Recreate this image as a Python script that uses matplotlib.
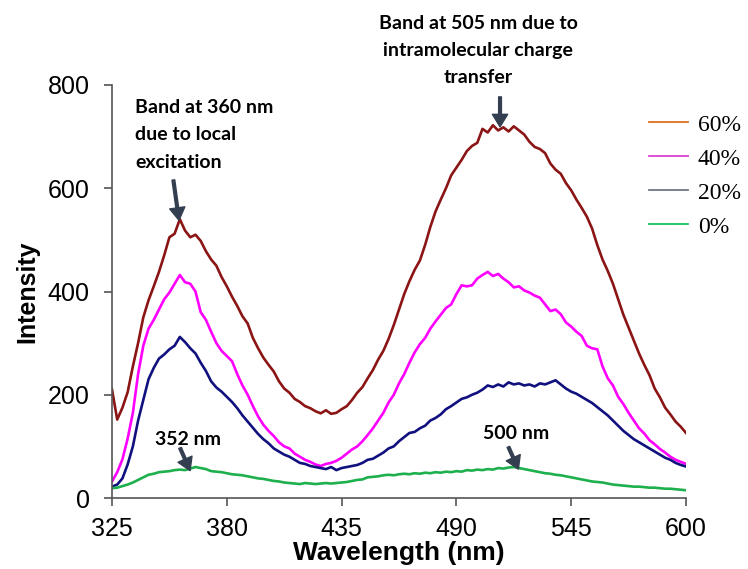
import numpy as np
import matplotlib
matplotlib.use("Agg")
import matplotlib.pyplot as plt
from matplotlib.lines import Line2D

# Emission wavelengths (nm), 2.5 nm step
wavelength = np.arange(325, 600.1, 2.5)

# Fluorescence intensity for each water fraction
int_60 = [
    210, 152, 175, 205, 255, 300, 350, 383, 410, 438,
    470, 505, 512, 540, 518, 505, 510, 498, 478, 462,
    450, 428, 410, 390, 372, 352, 338, 310, 290, 272,
    258, 245, 226, 212, 204, 192, 186, 178, 174, 168,
    164, 170, 163, 165, 172, 178, 190, 204, 215, 232,
    248, 268, 285, 308, 335, 365, 395, 420, 442, 460,
    490, 525, 555, 578, 600, 625, 640, 655, 672, 682,
    688, 715, 708, 722, 712, 718, 710, 720, 712, 704,
    690, 680, 676, 668, 648, 636, 628, 610, 596, 578,
    562, 545, 522, 490, 462, 440, 415, 385, 355, 330,
    305, 280, 258, 238, 212, 195, 175, 162, 148, 138,
    126,
]
int_40 = [
    32, 50, 75, 115, 165, 240, 295, 328, 345, 365,
    385, 398, 415, 432, 418, 415, 400, 360, 345, 322,
    300, 285, 275, 265, 240, 218, 200, 178, 158, 142,
    130, 120, 108, 100, 96, 86, 80, 74, 70, 65,
    62, 66, 68, 72, 78, 86, 94, 100, 110, 122,
    135, 150, 165, 185, 200, 222, 240, 262, 282, 298,
    310, 328, 342, 355, 368, 375, 395, 412, 410, 412,
    425, 432, 438, 430, 434, 425, 418, 408, 410, 402,
    398, 392, 388, 375, 362, 365, 356, 340, 332, 322,
    314, 295, 290, 288, 255, 232, 218, 196, 182, 165,
    150, 135, 125, 112, 104, 95, 88, 80, 74, 70,
    66,
]
int_20 = [
    22, 26, 38, 65, 100, 150, 190, 230, 252, 270,
    278, 288, 295, 312, 302, 290, 280, 262, 246, 226,
    214, 206, 196, 186, 174, 160, 148, 136, 124, 114,
    106, 96, 90, 84, 80, 74, 68, 66, 62, 60,
    58, 56, 60, 54, 58, 60, 62, 64, 68, 74,
    76, 82, 88, 96, 100, 110, 118, 126, 128, 135,
    140, 150, 155, 162, 172, 178, 185, 192, 195, 200,
    204, 210, 218, 215, 220, 216, 224, 220, 222, 218,
    220, 216, 222, 220, 224, 228, 220, 212, 206, 202,
    196, 190, 184, 176, 168, 160, 150, 140, 130, 122,
    114, 108, 102, 96, 90, 84, 78, 74, 68, 64,
    61,
]
int_0 = [
    19, 20, 23, 26, 30, 35, 40, 45, 47, 50,
    51, 52, 54, 55, 54, 57, 60, 58, 56, 52,
    51, 50, 48, 46, 45, 44, 42, 40, 38, 37,
    35, 33, 32, 30, 29, 28, 27, 29, 28, 27,
    28, 29, 28, 29, 30, 31, 33, 35, 36, 40,
    41, 42, 44, 45, 44, 46, 47, 46, 48, 47,
    49, 48, 50, 49, 51, 50, 52, 51, 54, 53,
    55, 54, 56, 55, 58, 57, 59, 60, 58, 56,
    54, 52, 50, 48, 47, 45, 44, 42, 40, 38,
    36, 34, 32, 31, 30, 28, 26, 25, 24, 23,
    22, 22, 21, 20, 20, 19, 18, 18, 17, 16,
    15,
]

series_labels = ["60%", "40%", "20%", "0%"]
line_colors = ["#8B1414", "#FF00FF", "#10107E", "#1DB04C"]
legend_colors = ["#E0701E", "#E040D0", "#6E7783", "#10C060"]

x_ticks = [325, 380, 435, 490, 545, 600]
y_ticks = [0, 200, 400, 600, 800]

fig = plt.figure(figsize=(7.48, 5.69), dpi=100)
ax = fig.add_axes([112 / 748, 71 / 569, 574 / 748, 413 / 569])

for vals, col in zip([int_60, int_40, int_20, int_0], line_colors):
    ax.plot(wavelength, vals, color=col, lw=1.9, solid_joinstyle="round")

ax.set_xlim(325, 600)
ax.set_ylim(0, 800)
ax.set_xticks(x_ticks)
ax.set_yticks(y_ticks)

axis_gray = "#555555"
for side in ["top", "right"]:
    ax.spines[side].set_visible(False)
for side in ["left", "bottom"]:
    ax.spines[side].set_color(axis_gray)
    ax.spines[side].set_linewidth(1.2)

ax.tick_params(axis="both", direction="out", length=6, width=1.2,
               color=axis_gray, labelsize=18, labelcolor="black")
ax.tick_params(axis="x", pad=8)
ax.tick_params(axis="y", pad=10)
for lab in ax.get_xticklabels() + ax.get_yticklabels():
    lab.set_fontfamily("Liberation Sans")

ax.set_xlabel("Wavelength (nm)", fontsize=19, fontweight="bold",
              family="Liberation Sans", labelpad=0)
ax.set_ylabel("Intensity", fontsize=18, fontweight="bold",
              family="Liberation Sans", labelpad=6)

# Band annotations
note_font = dict(family="Lato", fontweight="bold", fontsize=14, color="black")
arrow_kw = dict(width=2.0, headwidth=11, headlength=9, shrink=0,
                facecolor="#333F50", edgecolor="#333F50")

ax.annotate("", xy=(357.1, 538), xytext=(354.4, 616),
            arrowprops=arrow_kw, annotation_clip=False)
ax.text(336, 773, "Band at 360 nm\ndue to local\nexcitation", ha="left", va="top",
        linespacing=1.75, clip_on=False, **note_font)

ax.annotate("", xy=(510.9, 719), xytext=(510.9, 777),
            arrowprops=arrow_kw, annotation_clip=False)
ax.text(500.4, 936, "Band at 505 nm due to\nintramolecular charge\ntransfer",
        ha="center", va="top", linespacing=1.72, clip_on=False, **note_font)

ax.annotate("", xy=(362.4, 53), xytext=(357.6, 97),
            arrowprops=arrow_kw, annotation_clip=False)
ax.text(361.2, 113, "352 nm", ha="center", va="center", **note_font)

ax.annotate("", xy=(519.7, 56), xytext=(514.9, 99),
            arrowprops=arrow_kw, annotation_clip=False)
ax.text(518.8, 125, "500 nm", ha="center", va="center", **note_font)

handles = [Line2D([], [], color=c, lw=1.3) for c in legend_colors]
fig.legend(handles, series_labels, loc="upper left",
           bbox_to_anchor=(649 / 748, 1 - 114 / 569),
           frameon=False, borderpad=0, borderaxespad=0,
           handlelength=1.65, handletextpad=0.42, labelspacing=0.53,
           prop=dict(family="Liberation Serif", size=17))

fig.savefig("out.png", dpi=100)
